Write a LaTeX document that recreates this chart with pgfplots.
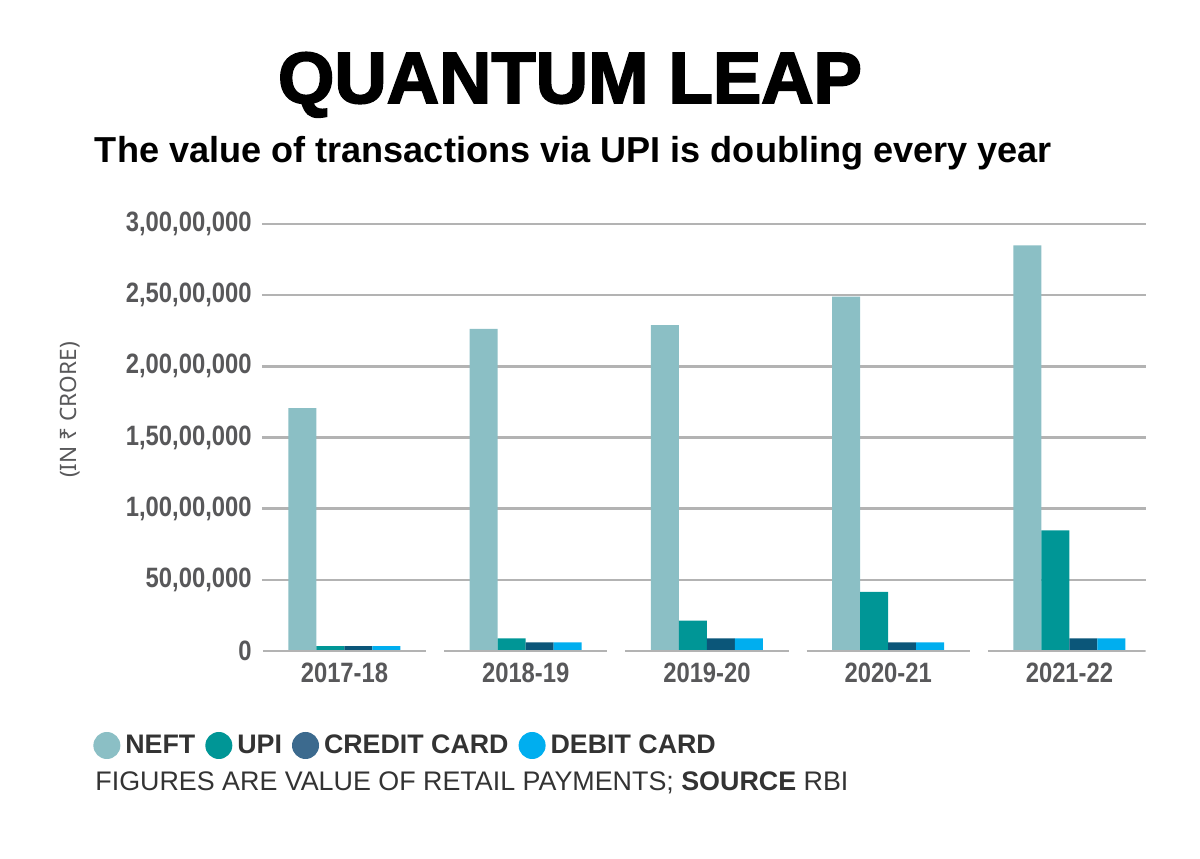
\documentclass[border=0pt]{standalone}
\usepackage{pgfplots}
\pgfplotsset{compat=1.18}
\usepackage{fontspec}
\setmainfont{Liberation Sans}
\newfontfamily\tickfont[FakeStretch=0.85]{Liberation Sans}
\newfontfamily\titlefont[FakeBold=2.5]{Liberation Sans}
\newfontfamily\labelfont{Noto Sans}
\definecolor{neft}{HTML}{8BBFC5}
\definecolor{upi}{HTML}{009696}
\definecolor{credit}{HTML}{0B5679}
\definecolor{creditleg}{HTML}{3C6A8E}
\definecolor{debit}{HTML}{00AEEF}
\definecolor{gridgray}{HTML}{B3B3B3}
\definecolor{ticktext}{HTML}{58585A}
\definecolor{legtext}{HTML}{333333}
\pgfplotsset{
  dotlegend/.style={legend image code/.code={\fill[##1,draw=none] (6.75pt,0pt) circle[radius=6.75pt];}},
  dotlegendc/.style={legend image code/.code={\fill[creditleg,draw=none] (6.75pt,0pt) circle[radius=6.75pt];}},
}
\begin{document}
\begin{tikzpicture}
\path[use as bounding box] (-131pt,-103.5pt) rectangle (469pt,325.5pt);
\begin{axis}[
  at={(0pt,0pt)}, anchor=south west,
  scale only axis, width=441.8pt, height=213.5pt,
  xmin=-0.455, xmax=4.42, ymin=0, ymax=3e7,
  ybar, bar width=0.1545,
  axis line style={draw=none},
  major tick length=0pt,
  xtick={0,1,2,3,4},
  xticklabels={2017-18,2018-19,2019-20,2020-21,2021-22},
  ytick={5e6,1e7,1.5e7,2e7,2.5e7,3e7},
  yticklabels={{50,00,000},{1,00,00,000},{1,50,00,000},{2,00,00,000},{2,50,00,000},{3,00,00,000}},
  extra y ticks={0}, extra y tick labels={0},
  extra y tick style={grid=none},
  scaled y ticks=false,
  /pgf/number format/assume math mode=true,
  ymajorgrids, grid style={gridgray, line width=1.2pt},
  tick label style={font=\tickfont\bfseries\fontsize{14}{16}\selectfont, text=ticktext},
  yticklabel style={anchor=east, inner sep=0pt, xshift=-5pt},
  xticklabel style={anchor=north, inner sep=0pt, yshift=-6pt},
  ylabel={(IN ₹ CRORE)},
  ylabel style={at={(axis description cs:-0.2173,0.5644)}, anchor=center, rotate=0, font=\labelfont\fontsize{11.3}{13}\selectfont, text=ticktext},
  legend style={at={(axis description cs:-0.1913,-0.2213)}, anchor=west, draw=none, fill=none, inner sep=0pt,
    font=\bfseries\fontsize{13.4}{15}\selectfont, text=legtext,
    /tikz/every odd column/.append style={column sep=2.5pt},
    /tikz/every even column/.append style={column sep=5pt},
    nodes={inner sep=0pt}},
  legend columns=4, legend cell align=left,
]
\addplot[fill=neft, draw=none, bar shift=-0.2318, dotlegend] coordinates {(0,1.706e7) (1,2.263e7) (2,2.289e7) (3,2.490e7) (4,2.849e7)};
\addplot[fill=upi, draw=none, bar shift=-0.0773, dotlegend] coordinates {(0,3.5e5) (1,8.8e5) (2,2.14e6) (3,4.15e6) (4,8.47e6)};
\addplot[fill=credit, draw=none, bar shift=0.0773, dotlegendc] coordinates {(0,3.5e5) (1,6.0e5) (2,8.8e5) (3,6.0e5) (4,8.8e5)};
\addplot[fill=debit, draw=none, bar shift=0.2318, dotlegend] coordinates {(0,3.5e5) (1,6.0e5) (2,8.8e5) (3,6.0e5) (4,8.8e5)};
\legend{NEFT,UPI,CREDIT CARD,DEBIT CARD}
\foreach \i in {0,...,4}{
  \edef\tmp{\noexpand\draw[gridgray, line width=1.2pt] (axis cs:\i-0.45,0) -- (axis cs:\i+0.45,0);}
  \tmp
}
\end{axis}
\node[anchor=base, inner sep=0pt] at (154pt,274pt) {\resizebox{292pt}{!}{\titlefont\bfseries\fontsize{38}{40}\selectfont QUANTUM LEAP}};
\node[anchor=base, inner sep=0pt] at (155.75pt,244pt) {\resizebox{478.5pt}{!}{\bfseries\fontsize{16.8}{19}\selectfont The value of transactions via UPI is doubling every year}};
\node[anchor=base west, inner sep=0pt, text=legtext] at (-83.5pt,-69.85pt) {\resizebox{376.5pt}{!}{\fontsize{13.3}{15}\selectfont FIGURES ARE VALUE OF RETAIL PAYMENTS; \textbf{SOURCE} RBI}};
\end{tikzpicture}
\end{document}
